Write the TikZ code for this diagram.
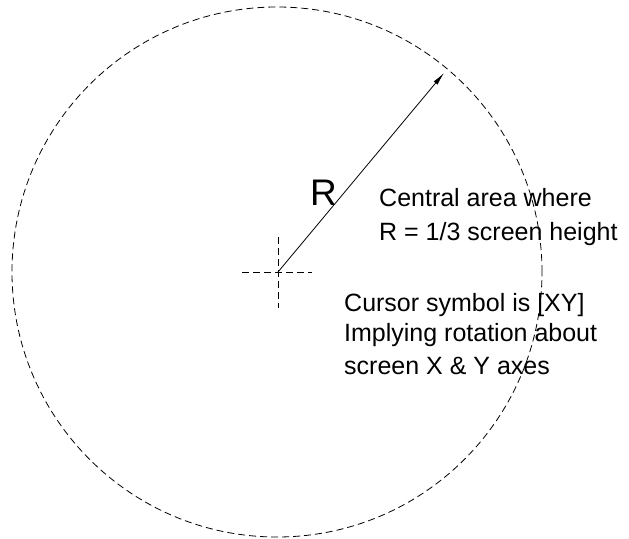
\documentclass[tikz,border=0pt]{standalone}
\usepackage{fontspec}
\setmainfont{Liberation Sans}
\usetikzlibrary{arrows.meta}
\begin{document}
\begin{tikzpicture}[x=1pt,y=-1pt,
  txt/.style={anchor=base west, inner sep=0pt, font=\fontsize{25}{30}\selectfont},
  bigtxt/.style={anchor=base west, inner sep=0pt, font=\fontsize{37}{40}\selectfont},
  dsh/.style={line width=0.8pt, dash pattern=on 7pt off 4pt},
  crossline/.style={line width=1pt, dash pattern=on 7pt off 4pt},
  radius arrow/.style={line width=0.8pt, -{Latex[length=13pt,width=5pt]}}]
\useasboundingbox (0,0) rectangle (629,538);
\node[circle, draw, dsh, minimum size=530pt, inner sep=0pt] (circ) at (277,272) {};
\coordinate (c) at (278,272);
\coordinate (tip) at (444,73);
\coordinate (hl) at (242,272);
\coordinate (hr) at (312,272);
\coordinate (vt) at (278,237);
\coordinate (vb) at (278,308);
\draw[crossline] (hl) -- (hr);
\draw[crossline] (vt) -- (vb);
\draw[radius arrow] (c) -- (tip);
\node[bigtxt] (R) at (310,205) {R};
\node[txt] (t1) at (379,206) {Central area where};
\node[txt] (t2) at (379,240) {R = 1/3 screen height};
\node[txt] (t3) at (344,311) {Cursor symbol is [XY]};
\node[txt] (t4) at (344,341) {Implying rotation about};
\node[txt] (t5) at (344,374) {screen X \& Y axes};
\end{tikzpicture}
\end{document}
